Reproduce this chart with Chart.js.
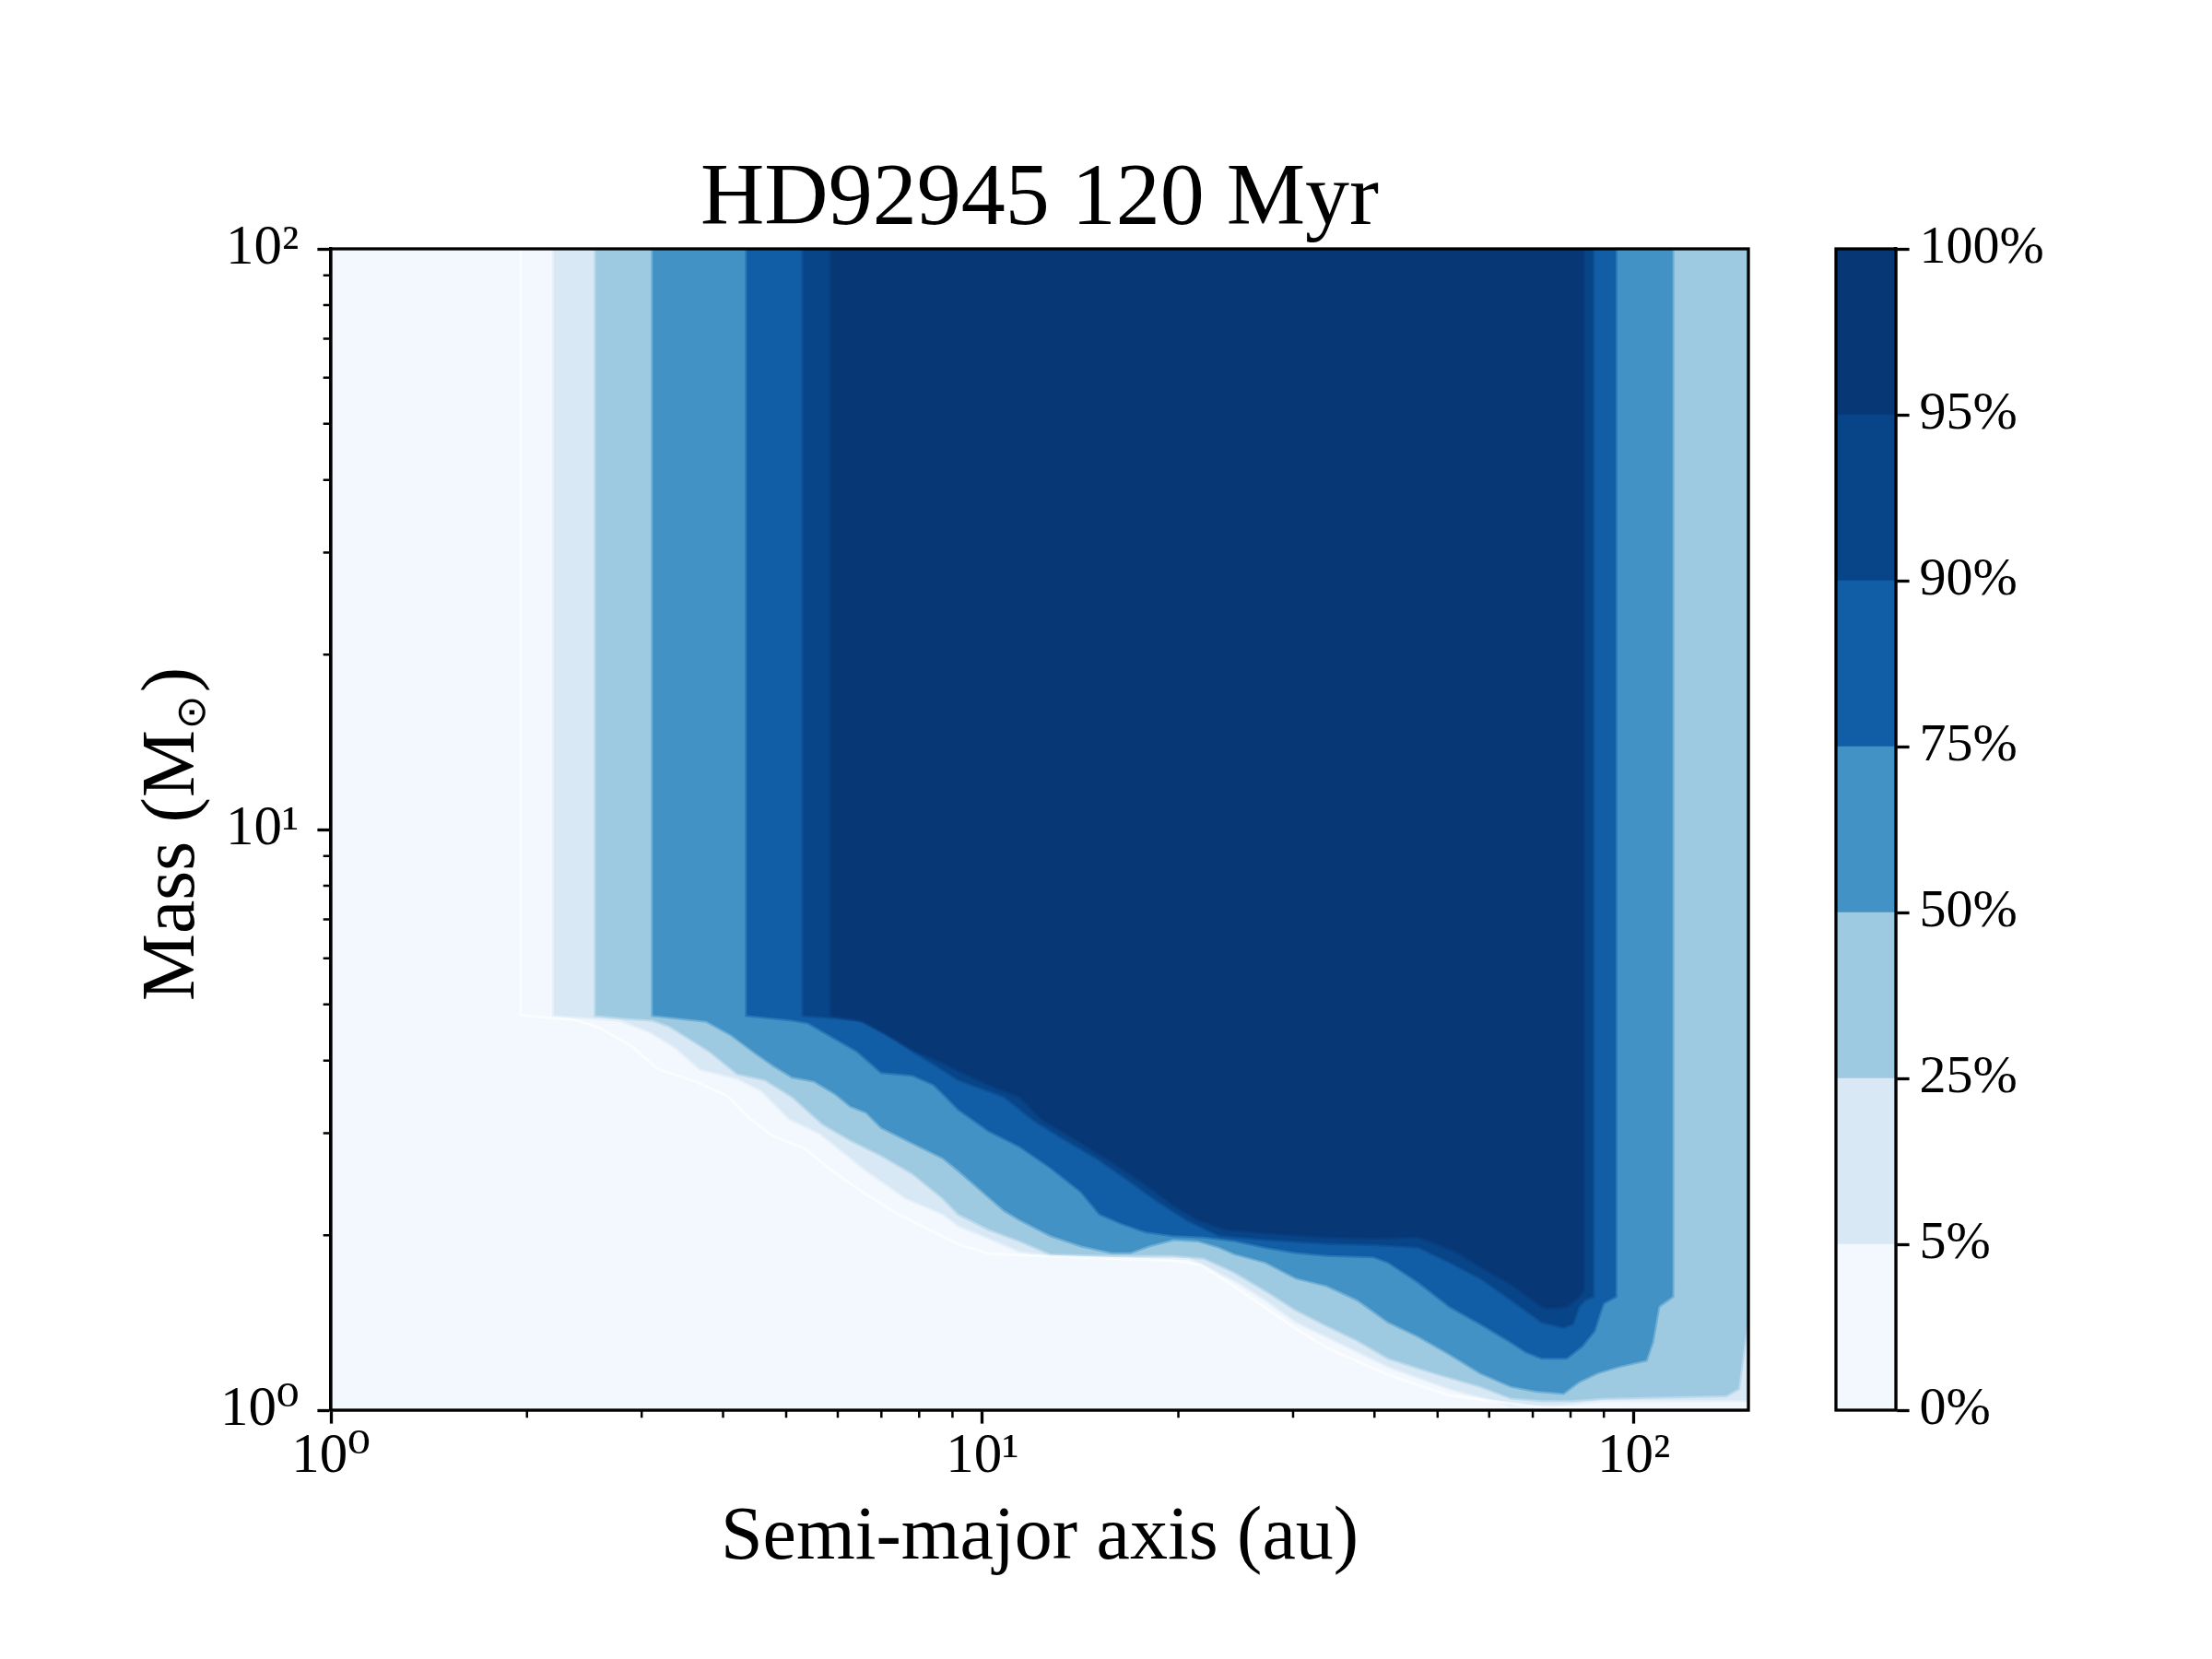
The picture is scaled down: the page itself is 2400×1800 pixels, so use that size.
<!DOCTYPE html>
<html>
<head>
<meta charset="utf-8">
<script src="https://cdn.jsdelivr.net/npm/chart.js@4.4.1/dist/chart.umd.min.js"></script>
<style>
html,body{margin:0;padding:0;background:#fff;}
#wrap{position:relative;width:2400px;height:1800px;background:#fff;}
canvas{position:absolute;top:0;}
</style>
</head>
<body>
<div id="wrap">
<canvas id="main" width="2400" height="1800" style="left:0;width:2400px;height:1800px"></canvas>
<canvas id="cbar" width="500" height="1800" style="left:1900px;width:500px;height:1800px"></canvas>
</div>
<script>
// ---------------- data ----------------
const chartTitle = 'HD92945 120 Myr';
const xTitle = 'Semi-major axis (au)';
const yTitleMain = 'Mass (M';
const yTitleSub = '\u2299';
const yTitleEnd = ')';

const levels = [0, 5, 25, 50, 75, 90, 95, 100];
const levelLabels = ['0%', '5%', '25%', '50%', '75%', '90%', '95%', '100%'];
const bandColors = ['#f2f8fd', '#d9e8f5', '#9ecae1', '#4292c6', '#125ea6', '#084488', '#083775'];
const cbarSpans = [1, 1, 1, 1, 1, 1, 1];

const xRange = [1, 150];
const yRange = [1, 100];
const xTickValues = [1, 10, 100];
const xTickLabels = ['10\u2070', '10\u00b9', '10\u00b2'];
const yTickValues = [1, 10, 100];
const yTickLabels = ['10\u2070', '10\u00b9', '10\u00b2'];
const minorTickValues = [2, 3, 4, 5, 6, 7, 8, 9, 20, 30, 40, 50, 60, 70, 80, 90];

// region where completeness > 0 (faint edge)
const c0A = [1.956,1.956,2.37,2.58,2.91,3.17,3.61,4.07,4.39,4.79,5.34,5.95,6.64,7.40,8.25,9.19,10.24,12.73,19.65,21.66,24.41,27.21,30.33,33.81,42.01,52.20,72.28,100,150];
const c0M = [100,4.79,4.70,4.56,4.22,3.87,3.69,3.47,3.18,2.96,2.82,2.56,2.35,2.18,2.05,1.93,1.86,1.84,1.81,1.78,1.63,1.50,1.38,1.28,1.15,1.06,1.01,1.005,1.003];

// completeness >= 5%
const c5A = [2.20,2.20,2.78,3.10,3.38,3.69,4.21,4.59,5.06,5.64,6.64,7.64,8.71,9.19,10.24,11.41,12.73,17.63,20.75,22.62,24.95,27.21,30.33,33.81,42.01,52.20,64.88,76.32,89.81,148,160,160];
const c5M = [100,4.79,4.70,4.48,4.22,3.87,3.73,3.55,3.18,3.00,2.59,2.32,2.18,2.08,1.98,1.88,1.85,1.83,1.83,1.75,1.65,1.55,1.42,1.34,1.19,1.09,1.02,1.02,1.04,1.04,1.04,100];

// completeness >= 25%
const c25A = [2.55,2.55,2.85,3.12,3.31,3.61,3.81,4.21,4.64,5.11,5.70,6.28,7.00,7.81,8.71,9.19,10.24,11.41,12.73,15.81,19.65,21.90,24.41,27.21,30.33,33.81,37.68,42.01,49.43,58.18,64.88,72.28,80.56,89.81,138.7,144.8,148.0,151,160,160];
const c25M = [100,4.79,4.73,4.70,4.59,4.32,4.16,3.80,3.71,3.47,3.11,2.92,2.75,2.56,2.32,2.18,2.05,1.96,1.86,1.85,1.85,1.83,1.73,1.61,1.49,1.40,1.32,1.23,1.16,1.10,1.05,1.04,1.04,1.05,1.06,1.09,1.31,1.5,1.5,100];

// completeness >= 50%
const c50A = [3.12,3.12,3.77,4.12,4.44,4.79,5.11,5.52,5.95,6.28,6.64,7.00,7.81,8.71,9.19,10.02,10.81,11.41,12.73,14.19,15.81,16.88,18.02,19.65,21.43,23.12,24.41,27.21,30.33,33.81,37.68,42.01,46.82,52.20,58.18,64.88,70.72,77.99,82.33,87.88,94.82,104.5,106.8,109.2,114.7,114.7];
const c50M = [100,4.79,4.68,4.43,4.16,3.92,3.75,3.69,3.51,3.34,3.26,3.07,2.89,2.72,2.59,2.38,2.21,2.13,2.00,1.92,1.87,1.87,1.92,1.97,1.96,1.91,1.86,1.80,1.69,1.64,1.55,1.42,1.34,1.25,1.16,1.10,1.08,1.07,1.12,1.16,1.19,1.22,1.31,1.51,1.57,100];

// completeness >= 75%
const c75A = [4.35,4.35,5.11,5.40,5.82,6.42,7.00,7.81,8.43,8.80,9.19,10.24,11.41,12.73,14.19,15.14,16.34,17.82,19.65,21.90,24.41,27.21,30.33,33.81,39.80,42.01,46.82,52.20,58.18,64.88,68.45,72.28,78.85,83.23,86.94,88.84,89.81,93.80,93.80];
const c75M = [100,4.79,4.70,4.65,4.43,4.16,3.82,3.78,3.64,3.47,3.30,3.03,2.85,2.62,2.38,2.18,2.10,2.03,2.00,1.99,1.96,1.91,1.87,1.85,1.84,1.80,1.66,1.51,1.41,1.31,1.26,1.23,1.23,1.29,1.37,1.48,1.53,1.57,100];

// completeness >= 90%
const c90A = [5.31,5.31,6.49,7.08,7.81,8.52,9.19,10.81,12.05,13.44,14.98,16.70,18.61,20.75,23.12,27.21,33.81,39.80,46.82,52.20,58.18,64.88,72.28,77.99,80.56,82.33,84.14,86.6,86.6];
const c90M = [100,4.79,4.70,4.48,4.16,3.92,3.71,3.47,3.15,2.92,2.72,2.50,2.29,2.12,2.00,1.97,1.94,1.93,1.91,1.80,1.69,1.55,1.42,1.39,1.41,1.51,1.55,1.57,100];

// completeness >= 95%
const c95A = [5.86,5.86,6.56,7.16,7.90,8.71,9.19,10.24,11.41,12.32,14.19,15.81,17.63,19.65,21.43,23.63,27.21,33.81,39.80,46.82,53.33,58.18,64.88,72.28,73.87,78.85,82.33,83.69,83.69];
const c95M = [100,4.79,4.68,4.43,4.16,3.97,3.85,3.64,3.47,3.18,2.89,2.68,2.47,2.26,2.13,2.05,2.02,1.99,1.98,1.99,1.88,1.77,1.65,1.51,1.50,1.51,1.57,1.61,100];

// full plot background (0-5% band)
const baseA = [xRange[0], xRange[1], xRange[1], xRange[0]];
const baseM = [yRange[0], yRange[0], yRange[1], yRange[1]];

// ---------------- helpers ----------------
const serif = "'Liberation Serif','DejaVu Serif','Times New Roman',serif";
const noClip = {left: 0, top: 0, right: 0, bottom: 0};
function pts(A, M) { return A.map((a, i) => ({x: a, y: M[i]})); }
function rgba(hex, al) {
  const n = parseInt(hex.slice(1), 16);
  return 'rgba(' + ((n >> 16) & 255) + ',' + ((n >> 8) & 255) + ',' + (n & 255) + ',' + al + ')';
}
function polyDs(label, A, M, color) {
  return {label: label, data: pts(A, M), showLine: true, fill: 'shape',
    backgroundColor: color, borderColor: rgba(color, 0.5), borderWidth: 4,
    pointRadius: 0, pointHoverRadius: 0, tension: 0, clip: noClip};
}
function lab(vals, labels, v) { const i = vals.indexOf(v); return i >= 0 ? labels[i] : ''; }

const mainDecor = {
  id: 'mainDecor',
  afterDraw(chart) {
    const {ctx, chartArea: a, scales: {x, y}} = chart;
    ctx.save();
    ctx.strokeStyle = '#000';
    ctx.lineWidth = 2.5;
    ctx.beginPath();
    for (const v of minorTickValues) {
      if (v > x.min && v < x.max) {
        const px = x.getPixelForValue(v);
        ctx.moveTo(px, a.bottom); ctx.lineTo(px, a.bottom + 8.3);
      }
      if (v > y.min && v < y.max) {
        const py = y.getPixelForValue(v);
        ctx.moveTo(a.left, py); ctx.lineTo(a.left - 8.3, py);
      }
    }
    ctx.stroke();
    ctx.lineWidth = 3.3;
    ctx.strokeRect(a.left, a.top, a.right - a.left, a.bottom - a.top);
    // y-axis title with subscript
    const fMain = '82px ' + serif;
    const fSub = "44px 'DejaVu Sans', sans-serif";
    ctx.fillStyle = '#000';
    ctx.textBaseline = 'alphabetic';
    ctx.textAlign = 'left';
    ctx.font = fMain;
    const w1 = ctx.measureText(yTitleMain).width;
    const w3 = ctx.measureText(yTitleEnd).width;
    ctx.font = fSub;
    const w2 = ctx.measureText(yTitleSub).width;
    const total = w1 + w2 + w3 + 4;
    ctx.translate(210, (a.top + a.bottom) / 2 + 5);
    ctx.rotate(-Math.PI / 2);
    let tx = -total / 2;
    ctx.font = fMain; ctx.fillText(yTitleMain, tx, 0); tx += w1 + 1;
    ctx.font = fSub; ctx.fillText(yTitleSub, tx, 12); tx += w2 + 3;
    ctx.font = fMain; ctx.fillText(yTitleEnd, tx, 0);
    ctx.restore();
  }
};

const frameOnly = {
  id: 'frameOnly',
  afterDraw(chart) {
    const {ctx, chartArea: a} = chart;
    ctx.save();
    ctx.strokeStyle = '#000';
    ctx.lineWidth = 3.3;
    ctx.strokeRect(a.left, a.top, a.right - a.left, a.bottom - a.top);
    ctx.restore();
  }
};

// ---------------- main contour chart ----------------
new Chart(document.getElementById('main'), {
  type: 'scatter',
  data: {
    datasets: [
      {label: '>0', data: pts(c0A, c0M), showLine: true, fill: false, borderColor: 'rgba(255,255,255,0.6)',
       borderWidth: 3, pointRadius: 0, pointHoverRadius: 0, tension: 0, clip: noClip},
      polyDs('95%', c95A, c95M, bandColors[6]),
      polyDs('90%', c90A, c90M, bandColors[5]),
      polyDs('75%', c75A, c75M, bandColors[4]),
      polyDs('50%', c50A, c50M, bandColors[3]),
      polyDs('25%', c25A, c25M, bandColors[2]),
      polyDs('5%', c5A, c5M, bandColors[1]),
      {label: '0%', data: pts(baseA, baseM), showLine: true, fill: 'shape', backgroundColor: bandColors[0],
       borderWidth: 0, pointRadius: 0, pointHoverRadius: 0, tension: 0, clip: noClip}
    ]
  },
  options: {
    responsive: false,
    animation: false,
    events: [],
    layout: {padding: {left: 0, right: 503, top: 0, bottom: 0}},
    plugins: {
      legend: {display: false},
      tooltip: {enabled: false},
      title: {display: true, text: chartTitle, fullSize: false, color: '#000',
        font: {family: serif, size: 96, weight: 'normal', lineHeight: 1.0},
        padding: {top: 170, bottom: 4}}
    },
    scales: {
      x: {
        type: 'logarithmic', min: xRange[0], max: xRange[1], position: 'bottom',
        afterFit: (s) => { s.height = 270; },
        afterBuildTicks: (s) => { s.ticks = xTickValues.map(v => ({value: v})); },
        ticks: {autoSkip: false, maxRotation: 0, minRotation: 0, padding: 0, color: '#000',
          font: {family: serif, size: 61}, callback: (v) => lab(xTickValues, xTickLabels, v)},
        grid: {display: true, drawOnChartArea: false, drawTicks: true, tickLength: 14.6, tickWidth: 3.3, tickColor: '#000'},
        border: {display: true, color: '#000', width: 3.3},
        title: {display: true, text: xTitle, color: '#000',
          font: {family: serif, size: 82, weight: 'normal', lineHeight: 1.2}, padding: {top: 0, bottom: 81}}
      },
      y: {
        type: 'logarithmic', min: yRange[0], max: yRange[1], position: 'left',
        afterFit: (s) => { s.width = 359; },
        afterBuildTicks: (s) => { s.ticks = yTickValues.map(v => ({value: v})); },
        ticks: {autoSkip: false, padding: 20, color: '#000',
          font: {family: serif, size: 61}, callback: (v) => lab(yTickValues, yTickLabels, v)},
        grid: {display: true, drawOnChartArea: false, drawTicks: true, tickLength: 14.6, tickWidth: 3.3, tickColor: '#000'},
        border: {display: true, color: '#000', width: 3.3},
        title: {display: false}
      }
    }
  },
  plugins: [mainDecor]
});

// ---------------- colorbar ----------------
new Chart(document.getElementById('cbar'), {
  type: 'bar',
  data: {
    labels: ['completeness'],
    datasets: bandColors.map((c, i) => ({
      label: levelLabels[i] + '-' + levelLabels[i + 1],
      data: [cbarSpans[i]], backgroundColor: c, borderWidth: 0,
      barPercentage: 1, categoryPercentage: 1
    }))
  },
  options: {
    responsive: false,
    animation: false,
    events: [],
    layout: {padding: {left: 92, right: 0, top: 270, bottom: 270}},
    plugins: {legend: {display: false}, tooltip: {enabled: false}},
    scales: {
      x: {display: false, stacked: true},
      y: {
        type: 'linear', stacked: true, min: 0, max: levels.length - 1, position: 'right',
        afterFit: (s) => { s.width = 343; },
        afterBuildTicks: (s) => { s.ticks = levels.map((l, i) => ({value: i})); },
        ticks: {autoSkip: false, padding: 11, color: '#000', font: {family: serif, size: 58},
          callback: (v) => levelLabels[v]},
        grid: {display: true, drawOnChartArea: false, drawTicks: true, tickLength: 14.6, tickWidth: 3.3, tickColor: '#000'},
        border: {display: true, color: '#000', width: 3.3}
      }
    }
  },
  plugins: [frameOnly]
});
</script>
</body>
</html>
